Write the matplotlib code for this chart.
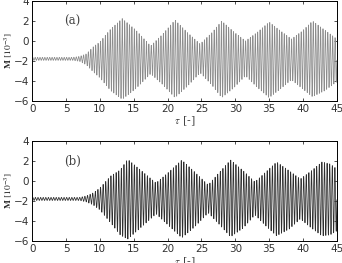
#!/usr/bin/env python3
"""Two-panel magnetization time history, M vs tau."""

import matplotlib
matplotlib.use('Agg')
import matplotlib.pyplot as plt
import numpy as np

plt.rcParams.update({
    'font.family': 'DejaVu Sans',
    'font.size': 8,
    'mathtext.fontset': 'stix',
    'xtick.direction': 'in',
    'ytick.direction': 'in',
    'xtick.top': True,
    'ytick.right': True,
    'xtick.major.size': 2.5,
    'ytick.major.size': 2.5,
    'xtick.major.width': 0.6,
    'ytick.major.width': 0.6,
    'axes.linewidth': 0.7,
    'xtick.labelsize': 7.5,
    'ytick.labelsize': 7.5,
})

# --- Data: envelope of the oscillation (units of 1e-3) ---
tau_a = [0, 6, 7, 8, 9, 10, 11.6, 13.3, 15.3, 17.5, 19.3, 21.1, 23, 24.8,
         26.5, 28.0, 29.8, 31.5, 33.3, 35.0, 36.7, 38.3, 39.9, 41.4, 43.2, 45]
upper_a = [-1.65, -1.65, -1.55, -1.3, -0.6, -0.1, 1.2, 2.24, 1.1, -0.5, 0.7,
           2.1, 0.8, -0.3, 0.8, 2.0, 0.9, 0.0, 0.9, 1.9, 1.0, 0.2, 1.0,
           2.0, 1.1, 0.2]
lower_a = [-1.95, -1.95, -2.05, -2.4, -3.1, -3.7, -5.0, -5.86, -4.8, -3.3,
           -4.4, -5.7, -4.5, -3.2, -4.4, -5.7, -4.7, -3.5, -4.7, -5.7, -4.8,
           -3.9, -4.8, -5.6, -5.0, -4.1]

tau_b = [0, 7, 8, 9, 10, 11.6, 13, 14.1, 16, 18.3, 20.2, 22.1, 24, 26,
         27.7, 29.3, 31.2, 32.9, 34.5, 36.1, 38, 39.6, 41.2, 42.8, 44, 45]
upper_b = [-1.65, -1.65, -1.5, -1.2, -0.7, 0.5, 1.1, 2.17, 1.1, -0.2, 0.9,
           2.1, 0.9, -0.4, 0.9, 2.1, 1.0, -0.1, 0.9, 1.9, 1.0, 0.2, 1.0,
           1.9, 1.7, 1.2]
lower_b = [-1.95, -1.95, -2.1, -2.4, -2.9, -4.2, -5.4, -5.83, -4.7, -3.3,
           -4.5, -5.7, -4.6, -3.2, -4.4, -5.6, -4.7, -3.4, -4.5, -5.5, -4.8,
           -3.8, -4.7, -5.5, -5.4, -5.0]

# carrier cycles per unit tau (counted from the picture)
cycles_a = 2.8
cycles_b = 2.6

panel_labels = ['(a)', '(b)']
x_ticks = [0, 5, 10, 15, 20, 25, 30, 35, 40, 45]
y_ticks = [-6, -4, -2, 0, 2, 4]

COLOR_A = '#8c8c8c'
COLOR_B = '#2e2e2e'


def trace(tau_k, up, lo, cycles):
    t = np.linspace(0, 45, 12000)
    u = np.interp(t, tau_k, up)
    l = np.interp(t, tau_k, lo)
    mid = 0.5 * (u + l)
    amp = 0.5 * (u - l)
    return t, mid + amp * np.sin(2 * np.pi * cycles * t)


fig = plt.figure(figsize=(3.42, 2.63), dpi=100)
ax_a = fig.add_axes([0.094, 0.617, 0.891, 0.379])
ax_b = fig.add_axes([0.094, 0.084, 0.891, 0.380])

series = [
    (ax_a, tau_a, upper_a, lower_a, cycles_a, COLOR_A),
    (ax_b, tau_b, upper_b, lower_b, cycles_b, COLOR_B),
]

for i, (ax, tk, up, lo, cyc, col) in enumerate(series):
    t, m = trace(tk, up, lo, cyc)
    ax.plot(t, m, color=col, linewidth=0.55)
    ax.set_xlim(0, 45)
    ax.set_ylim(-6, 4)
    ax.set_xticks(x_ticks)
    ax.set_yticks(y_ticks)
    ax.tick_params(colors='#333333', pad=2)
    ax.text(5.9, 2.0, panel_labels[i], fontsize=8.5, family='DejaVu Serif',
            color='#444444', ha='center', va='center')
    ax.set_xlabel(r'$\tau$ [-]', family='DejaVu Serif', fontsize=8,
                  color='#444444', labelpad=1)
    ax.set_ylabel(r'$\mathbf{M}\ [10^{-3}]$', fontsize=6.8, color='#222222')
    ax.yaxis.set_label_coords(-0.06, 0.5)

fig.savefig('out.png', dpi=100)
plt.close()
